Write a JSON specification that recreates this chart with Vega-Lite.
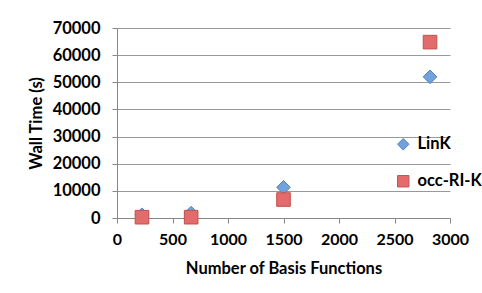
{
  "$schema": "https://vega.github.io/schema/vega-lite/v6.json",
  "width": 333,
  "height": 190,
  "autosize": "none",
  "padding": {"left": 117, "top": 28, "right": 32, "bottom": 75},
  "background": "white",
  "data": {
    "values": [
      {"basis": 225, "time": 1200, "method": "LinK"},
      {"basis": 668, "time": 1800, "method": "LinK"},
      {"basis": 1500, "time": 11300, "method": "LinK"},
      {"basis": 2820, "time": 52000, "method": "LinK"},
      {"basis": 225, "time": 300, "method": "occ-RI-K"},
      {"basis": 668, "time": 300, "method": "occ-RI-K"},
      {"basis": 1500, "time": 6800, "method": "occ-RI-K"},
      {"basis": 2820, "time": 64800, "method": "occ-RI-K"}
    ]
  },
  "mark": {"type": "point", "filled": true, "strokeWidth": 1, "opacity": 1, "size": 185},
  "encoding": {
    "x": {
      "field": "basis", "type": "quantitative",
      "scale": {"domain": [0, 3000], "nice": false},
      "axis": {
        "values": [0, 500, 1000, 1500, 2000, 2500, 3000],
        "format": "d",
        "labelOverlap": false,
        "labelFlush": false,
        "title": "Number of Basis Functions",
        "grid": false,
        "tickSize": 5, "tickColor": "#888", "domainColor": "#888",
        "labelPadding": 8, "titlePadding": 13,
        "labelFont": "Lato", "labelFontSize": 16, "labelFontWeight": "bold", "labelColor": "#000",
        "titleFont": "Lato", "titleFontSize": 16.5, "titleFontWeight": "bold", "titleColor": "#000"
      }
    },
    "y": {
      "field": "time", "type": "quantitative",
      "scale": {"domain": [0, 70000], "nice": false},
      "axis": {
        "values": [0, 10000, 20000, 30000, 40000, 50000, 60000, 70000],
        "title": "Wall Time (s)",
        "format": "d",
        "labelFlush": false,
        "grid": true, "gridColor": "#999", "gridWidth": 1,
        "tickSize": 5, "tickColor": "#888", "domainColor": "#888",
        "labelPadding": 12, "titlePadding": 8,
        "labelFont": "Lato", "labelFontSize": 16.5, "labelFontWeight": "bold", "labelColor": "#000",
        "titleFont": "Lato", "titleFontSize": 16.5, "titleFontWeight": "bold", "titleColor": "#000"
      }
    },
    "shape": {
      "field": "method", "type": "nominal",
      "scale": {"domain": ["LinK", "occ-RI-K"], "range": ["diamond", "square"]},
      "legend": {
        "title": null,
        "orient": "none",
        "legendX": 278,
        "legendY": 108,
        "rowPadding": 20,
        "symbolSize": 130,
        "labelOffset": 6,
        "labelFont": "Lato", "labelFontSize": 16.5, "labelFontWeight": "bold", "labelColor": "#000",
        "symbolStrokeWidth": 1
      }
    },
    "fill": {
      "field": "method", "type": "nominal",
      "scale": {"domain": ["LinK", "occ-RI-K"], "range": ["#72a2dd", "#e36b6b"]}
    },
    "stroke": {
      "field": "method", "type": "nominal",
      "scale": {"domain": ["LinK", "occ-RI-K"], "range": ["#4f81bd", "#c0504d"]}
    }
  },
  "config": {
    "view": {"stroke": null}
  }
}
